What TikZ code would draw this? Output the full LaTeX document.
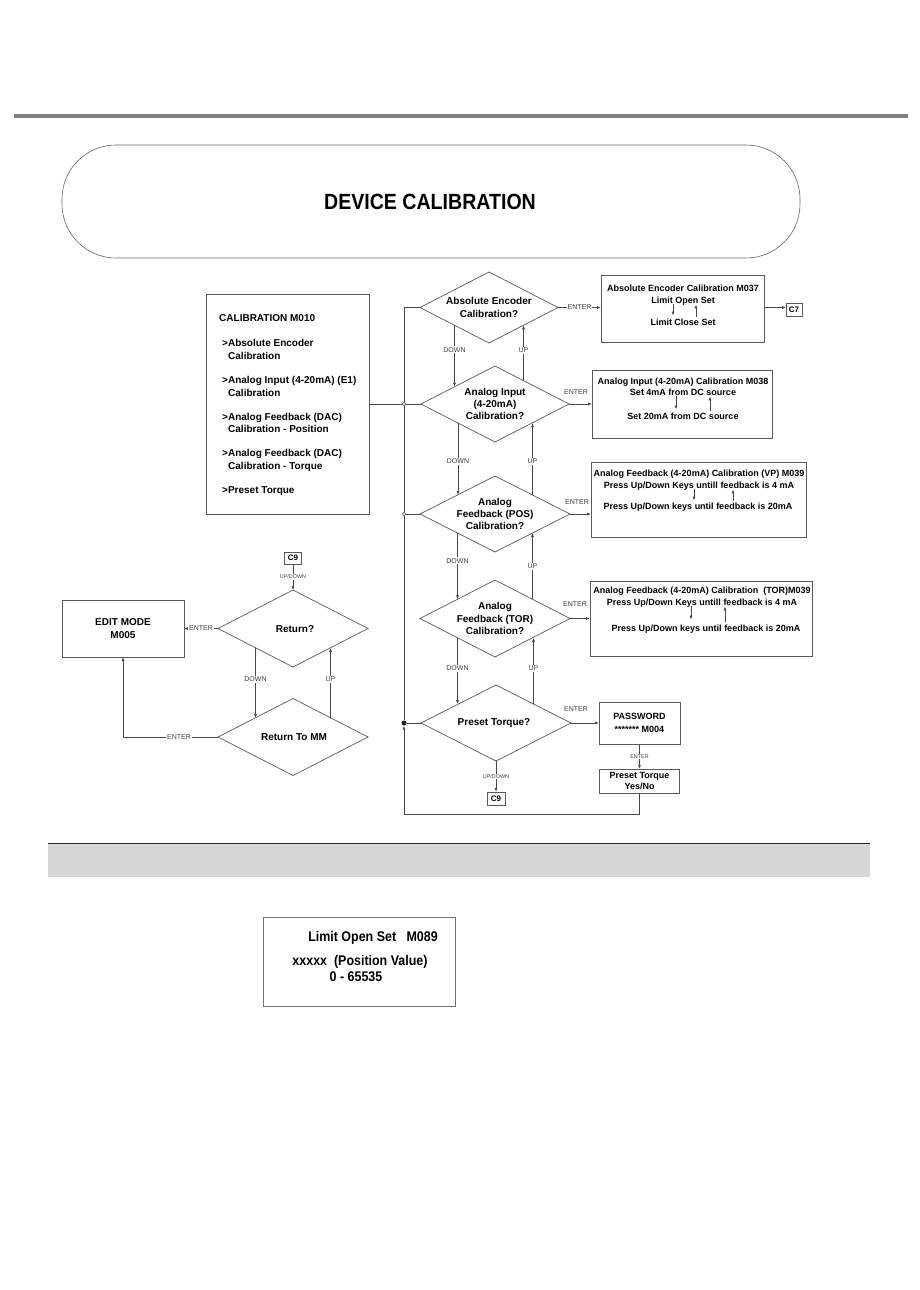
\documentclass[tikz,border=0pt]{standalone}
\usepackage{fontspec}
\setmainfont{Liberation Sans}
\newfontfamily\condfont{Liberation Sans}[FakeStretch=0.89]
\usetikzlibrary{arrows.meta,shapes.geometric,calc}
\begin{document}
\begin{tikzpicture}[x=1pt,y=-1pt,
  ln/.style={draw=black!72, line width=0.7pt},
  arr/.style={ln, -{Latex[length=4pt,width=3pt]}},
  rbox/.style={draw=black!65, line width=0.7pt, inner sep=0pt, outer sep=0pt},
  dia/.style={draw=black!65, line width=0.7pt, shape=diamond, inner sep=0pt, outer sep=0pt},
  bt/.style={font=\fontsize{9}{11}\selectfont\bfseries, inner sep=0pt, text height=6.6pt, text depth=1.9pt},
  mt/.style={font=\fontsize{10}{12}\selectfont\bfseries, inner sep=0pt, anchor=base west},
  dt/.style={font=\fontsize{10}{12.3}\selectfont\bfseries, align=center, inner sep=0pt},
  sm/.style={font=\fontsize{7}{8}\selectfont, text=black!75, inner sep=1pt},
  tinylbl/.style={font=\fontsize{5.4}{6}\selectfont, text=black!75, inner sep=0.8pt},
  ct/.style={font=\condfont\fontsize{14}{16}\selectfont\bfseries, inner sep=0pt},
]
\fill[white] (0,0) rectangle (920,1290);
\useasboundingbox (0,0) rectangle (920,1290);

% top bar
\fill[black!50] (14,114) rectangle (908,118);

% header
\node[draw=black!60, line width=0.6pt, rounded corners=54pt, minimum width=738pt, minimum height=113pt, inner sep=0pt] (hdr) at (431,201.5) {};
\node[font=\condfont\fontsize{22}{24}\selectfont\bfseries, inner sep=0pt] (title) at (430,202) {DEVICE CALIBRATION};

% calibration menu box
\node[rbox, minimum width=163pt, minimum height=220pt] (cal) at (287.5,404) {};
\node[mt] (c0) at (219,321.6) {CALIBRATION M010};
\node[mt] (c1a) at (222,346.6) {>Absolute Encoder};
\node[mt] (c1b) at (228,359.3) {Calibration};
\node[mt] (c2a) at (222,383.6) {>Analog Input (4-20mA) (E1)};
\node[mt] (c2b) at (228,396.0) {Calibration};
\node[mt] (c3a) at (222,420.4) {>Analog Feedback (DAC)};
\node[mt] (c3b) at (228,432.6) {Calibration - Position};
\node[mt] (c4a) at (222,456.6) {>Analog Feedback (DAC)};
\node[mt] (c4b) at (228,469.2) {Calibration - Torque};
\node[mt] (c5a) at (222,493.4) {>Preset Torque};

% diamonds
\node[dia, minimum width=138pt, minimum height=71pt] (d1) at (489,307.5) {};
\node[dt] (d1t) at (d1) {Absolute Encoder\\Calibration?};
\node[dia, minimum width=148pt, minimum height=76pt] (d2) at (495,404) {};
\node[dt] (d2t) at (d2) {Analog Input\\(4-20mA)\\Calibration?};
\node[dia, minimum width=150pt, minimum height=76pt] (d3) at (495,514) {};
\node[dt] (d3t) at (d3) {Analog\\Feedback (POS)\\Calibration?};
\node[dia, minimum width=150pt, minimum height=77pt] (d4) at (495,618.5) {};
\node[dt] (d4t) at (d4) {Analog\\Feedback (TOR)\\Calibration?};
\node[dia, minimum width=150pt, minimum height=76pt] (d5) at (496,723) {};
\node[dt] (d5t) at (494,723.5) {Preset Torque?};
\node[dia, minimum width=150pt, minimum height=77pt] (dR) at (293,628.5) {};
\node[dt] (dRt) at (295,629) {Return?};
\node[dia, minimum width=150pt, minimum height=77pt] (dM) at (293,737) {};
\node[dt] (dMt) at (294,737) {Return To MM};

% right boxes
\node[rbox, minimum width=163pt, minimum height=67pt] (m37) at (682.5,308.5) {};
\node[bt] (t37a) at (683,289) {Absolute Encoder Calibration M037};
\node[bt] (t37b) at (683,301) {Limit Open Set};
\node[bt] (t37c) at (683,323) {Limit Close Set};
\draw[arr] ([xshift=-10pt,yshift=1pt]t37b.south) -- ([xshift=-10pt,yshift=3pt]t37c.north);
\draw[arr] ([xshift=13pt,yshift=2pt]t37c.north) -- ([xshift=13pt,yshift=1pt]t37b.south);

\node[rbox, minimum width=16pt, minimum height=13pt, font=\fontsize{8}{9}\selectfont\bfseries] (c7) at (794,309.5) {C7};

\node[rbox, minimum width=180pt, minimum height=68pt] (m38) at (682,404) {};
\node[bt] (t38a) at (683,382) {Analog Input (4-20mA) Calibration M038};
\node[bt] (t38b) at (683,393) {Set 4mA from DC source};
\node[bt] (t38c) at (683,417) {Set 20mA from DC source};
\draw[arr] ([xshift=-7pt,yshift=1pt]t38b.south) -- ([xshift=-7pt,yshift=3pt]t38c.north);
\draw[arr] ([xshift=27pt,yshift=2pt]t38c.north) -- ([xshift=27pt,yshift=1pt]t38b.south);

\node[rbox, minimum width=215pt, minimum height=75pt] (vp) at (698.5,499.5) {};
\node[bt] (t39a) at (699,474) {Analog Feedback (4-20mA) Calibration (VP) M039};
\node[bt] (t39b) at (699,486) {Press Up/Down Keys untill feedback is 4 mA};
\node[bt] (t39c) at (698,507) {Press Up/Down keys until feedback is 20mA};
\draw[arr] ([xshift=-5pt,yshift=1pt]t39b.south) -- ([xshift=-4pt,yshift=2pt]t39c.north);
\draw[arr] ([xshift=35pt,yshift=2pt]t39c.north) -- ([xshift=34pt,yshift=1pt]t39b.south);

\node[rbox, minimum width=222pt, minimum height=75pt] (tor) at (701,618.5) {};
\node[bt] (tTa) at (702,591) {Analog Feedback (4-20mA) Calibration \ (TOR)M039};
\node[bt] (tTb) at (702,603) {Press Up/Down Keys untill feedback is 4 mA};
\node[bt] (tTc) at (706,629) {Press Up/Down keys until feedback is 20mA};
\draw[arr] ([xshift=-11pt,yshift=1pt]tTb.south) -- ([xshift=-15pt,yshift=5pt]tTc.north);
\draw[arr] ([xshift=19pt,yshift=3pt]tTc.north) -- ([xshift=23pt,yshift=1pt]tTb.south);

\node[rbox, minimum width=81pt, minimum height=42pt, align=center, font=\fontsize{9}{13}\selectfont\bfseries] (pw) at (639.5,723) {PASSWORD\\******* M004};
\node[rbox, minimum width=80pt, minimum height=24pt, align=center, font=\fontsize{9}{11}\selectfont\bfseries] (yn) at (639.5,781) {Preset Torque\\Yes/No};
\node[rbox, minimum width=18pt, minimum height=13pt, font=\fontsize{8}{9}\selectfont\bfseries] (c9b) at (496,798.5) {C9};
\node[rbox, minimum width=17pt, minimum height=12pt, font=\fontsize{8}{9}\selectfont\bfseries] (c9a) at (293,558) {C9};
\node[rbox, minimum width=122pt, minimum height=57pt, align=center, font=\fontsize{10}{13}\selectfont\bfseries] (edit) at (123,628.5) {EDIT MODE\\M005};

% junctions
\coordinate (jtop) at (404,307.5);
\node[circle, draw=black!70, fill=white, line width=0.5pt, inner sep=0pt, minimum size=3.4pt] (j1) at (404,404) {};
\node[circle, draw=black!70, fill=white, line width=0.5pt, inner sep=0pt, minimum size=3.4pt] (j2) at (404,514) {};
\node[circle, fill=black!85, inner sep=0pt, minimum size=5pt] (j3) at (404,723) {};
\coordinate (r1) at (639.5,814);
\coordinate (r2) at (404,814);

\draw[ln] (d1.west) -- (jtop) -- (j1);
\draw[ln] (j1) -- (j2);
\draw[ln] (j2) -- (j3);
\draw[ln] (cal.east) -- (j1);
\draw[ln] (j1) -- (d2.west);
\draw[ln] (j2) -- (d3.west);
\draw[ln] (j3) -- (d5.west);
\draw[arr] (yn.south) -- (r1) -- (r2) -- (j3);

% enter arrows right
\draw[arr] (d1.east) -- (d1.east -| m37.west) node[pos=0.5, sm, fill=white] (e1) {ENTER};
\draw[arr] (m37.east |- d1.east) -- (d1.east -| c7.west);
\draw[arr] (d2.east) -- (m38.west);
\node[sm] (e2) at (576,392) {ENTER};
\draw[arr] (d3.east) -- (d3.east -| vp.west);
\node[sm] (e3) at (577,502) {ENTER};
\draw[arr] (d4.east) -- (d4.east -| tor.west);
\node[sm] (e4) at (575,604) {ENTER};
\draw[arr] (d5.east) -- (pw.west);
\node[sm] (e5) at (576,709) {ENTER};
\draw[arr] (pw.south) -- (yn.north) node[midway, tinylbl, fill=white] (e6) {ENTER};
\draw[arr] (d5.south) -- (d5.south |- c9b.north) node[midway, tinylbl, fill=white] (ud1) {UP/DOWN};

% down/up between diamonds
\draw[arr] (d1.south west) -- ($(d2.west)!0.4527!(d2.north)$) node[pos=0.40, sm, fill=white] (dn1) {DOWN};
\draw[arr] ($(d2.north)!0.385!(d2.east)$) -- (d1.south east) node[pos=0.55, sm, fill=white] (up1) {UP};
\draw[arr] (d2.south west) -- (d2.south west |- d3.north west) node[pos=0.53, sm, fill=white] (dn2) {DOWN};
\draw[arr] (d3.north east) -- (d3.north east |- d2.south east) node[pos=0.47, sm, fill=white] (up2) {UP};
\draw[arr] (d3.south west) -- (d3.south west |- d4.north west) node[pos=0.42, sm, fill=white] (dn3) {DOWN};
\draw[arr] (d4.north east) -- (d4.north east |- d3.south east) node[pos=0.5, sm, fill=white] (up3) {UP};
\draw[arr] (d4.south west) -- (d4.south west |- d5.north west) node[pos=0.46, sm, fill=white] (dn4) {DOWN};
\draw[arr] (d5.north east) -- (d5.north east |- d4.south east) node[pos=0.54, sm, fill=white] (up4) {UP};

% left part
\draw[arr] (c9a.south) -- (dR.north) node[midway, tinylbl, fill=white] (ud2) {UP/DOWN};
\draw[arr] (dR.west) -- (edit.east) node[midway, sm, fill=white] (e7) {ENTER};
\draw[arr] (dR.south west) -- (dR.south west |- dM.north west) node[pos=0.45, sm, fill=white] (dn5) {DOWN};
\draw[arr] (dM.north east) -- (dM.north east |- dR.south east) node[pos=0.55, sm, fill=white] (up5) {UP};
\draw[arr] (dM.west) -- (dM.west -| edit.south) node[pos=0.41, sm, fill=white] (e8) {ENTER} -- (edit.south);

% bottom band
\fill[black!16] (48,843) rectangle (870,877);
\draw[black!85, line width=1pt] (48,843) -- (870,843);

% bottom box
\node[draw=black!55, line width=1pt, inner sep=0pt, minimum width=192pt, minimum height=89pt] (lbox) at (359,961.5) {};
\node[ct] (l1) at (373,938) {Limit Open Set \ \ M089};
\node[ct] (l2) at (360,962) {xxxxx \ (Position Value)};
\node[ct] (l3) at (356,977) {0 - 65535};
\end{tikzpicture}
\end{document}
